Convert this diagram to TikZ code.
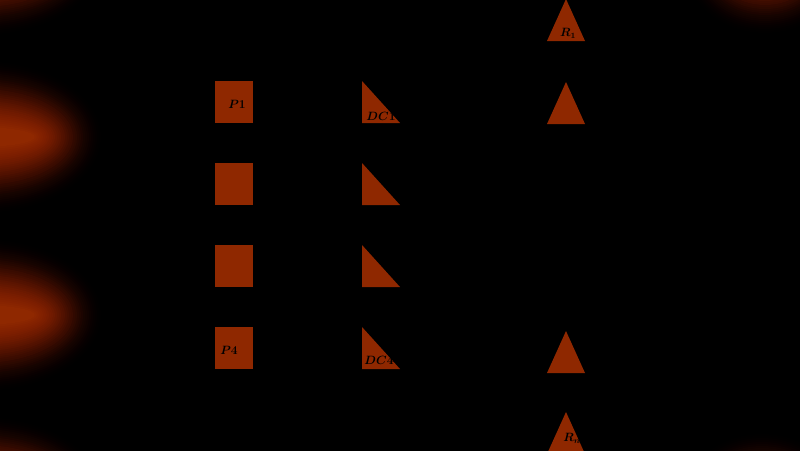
\documentclass[tikz,border=0pt]{standalone}
\usepackage{amsmath}
\usepackage{bm}
\usetikzlibrary{arrows.meta}
\definecolor{shapec}{RGB}{143,40,0}
% blurred ellipse: centre x, centre y, x radius, y radius
\newcommand{\glowblob}[4]{%
  \foreach \e in {0,2,...,68}{%
    \pgfmathsetmacro\gta{\e/70}%
    \pgfmathsetmacro\gtb{(\e+2)/70}%
    \pgfmathsetmacro\gop{1-(\gta*\gta*(3-2*\gta))/(\gtb*\gtb*(3-2*\gtb))}%
    \pgfmathsetmacro\grx{#3+\e}%
    \pgfmathsetmacro\gry{#4+\e}%
    \fill[shapec,opacity=\gop] (#1,#2) ellipse (\grx pt and \gry pt);
  }%
}
\begin{document}
\begin{tikzpicture}[x=1pt,y=-1pt,
  box/.style={rectangle,fill=shapec,minimum width=38pt,minimum height=42pt,inner sep=0pt,outer sep=0pt},
  lbl/.style={font=\fontsize{12}{14}\selectfont,text=black,inner sep=0pt},
  wire/.style={draw=black,line width=0.8pt}]
\useasboundingbox (0,0) rectangle (800,450);
\fill[black] (-5,-5) rectangle (805,455);
\begin{scope}
\clip (0,0) rectangle (800,450);
\glowblob{-20}{137}{55}{10}
\glowblob{-20}{315}{55}{10}
\glowblob{-20}{-41}{55}{10}
\glowblob{-20}{493}{55}{10}
\glowblob{765}{-38}{15}{5}
\glowblob{762}{505}{15}{5}
\end{scope}
% squares
\node[box] (P1) at (234,102) {};
\node[box] (P2) at (234,184) {};
\node[box] (P3) at (234,266) {};
\node[box] (P4) at (234,348) {};
% right triangles
\foreach \i/\y in {1/81,2/163,3/245,4/327}{
  \fill[shapec] (362,\y) -- (362,\y+42) -- (400,\y+42) -- cycle;
  \coordinate (DC\i) at (362,\y+21);
}
% isosceles triangles
\foreach \i/\y in {1/-1,2/82,3/331,4/412}{
  \fill[shapec] (566,\y) -- (585,\y+42) -- (547,\y+42) -- cycle;
  \coordinate (R\i) at (566,\y+21);
}
% connectors
\foreach \i in {1,2,3,4}{\draw[wire] (P\i.east) -- (DC\i);}
% labels
\node[lbl] (lP1) at (237,104) {$\bm{P1}$};
\node[lbl] (lP4) at (229,350) {$\bm{P4}$};
\node[lbl] (lDC1) at (381,116) {$\bm{DC1}$};
\node[lbl] (lDC4) at (379,360) {$\bm{DC4}$};
\node[lbl] (lR1) at (568,33) {$\bm{R_1}$};
\node[lbl] (lRn) at (572,438) {$\bm{R_n}$};
\end{tikzpicture}
\end{document}
